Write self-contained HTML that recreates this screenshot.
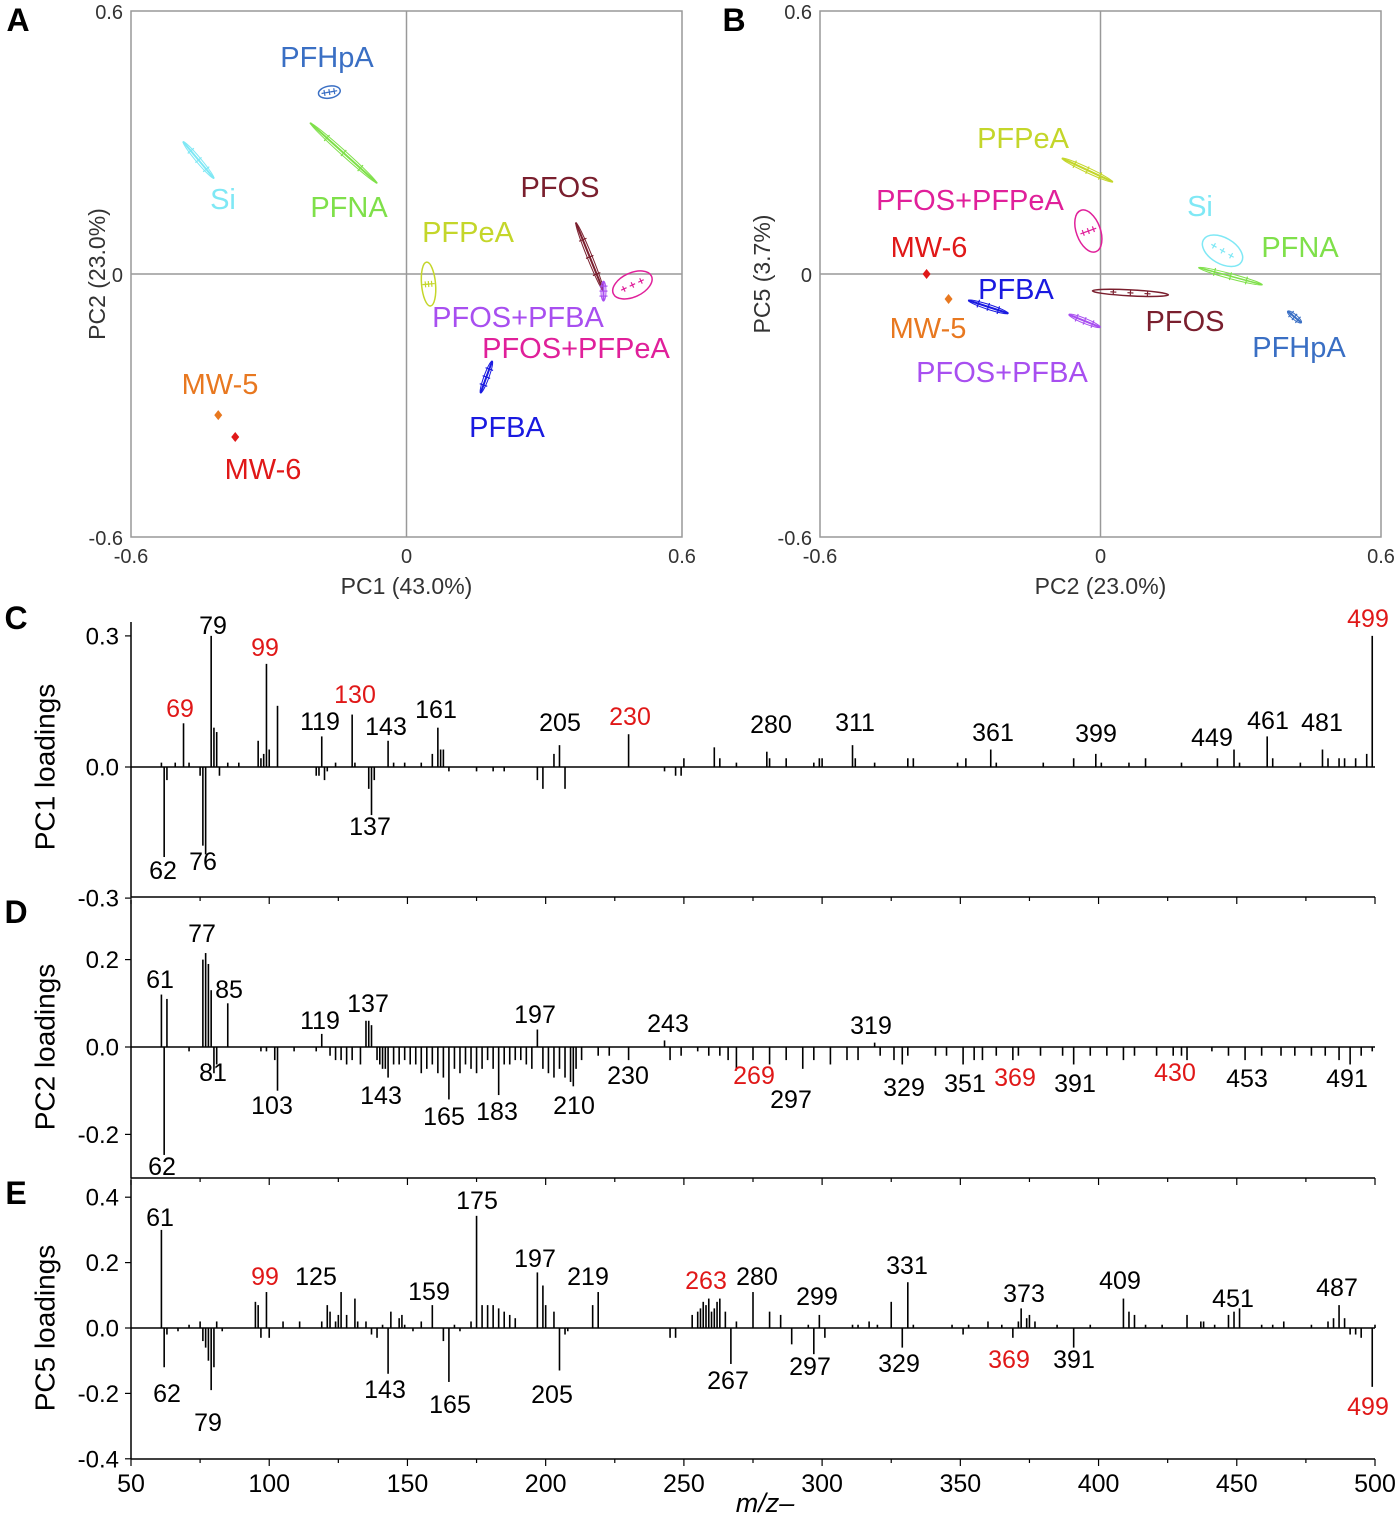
<!DOCTYPE html>
<html><head><meta charset="utf-8"><style>
html,body{margin:0;padding:0;background:#fff;}
svg{display:block;font-family:"Liberation Sans",Arial,sans-serif;}
</style></head><body>
<svg id="fig" width="1400" height="1520" viewBox="0 0 1400 1520" xmlns="http://www.w3.org/2000/svg"></svg>
<script>
// ---------- Score plot data (panel A: PC1 vs PC2) ----------
const aNames = ["PFHpA","Si","PFNA","PFOS","PFPeA","PFOS+PFBA","PFOS+PFPeA","PFBA","MW-5","MW-6"];
const aX = [-0.168,-0.453,-0.137,0.399,0.048,0.429,0.492,0.174,-0.41,-0.373];
const aY = [0.415,0.26,0.276,0.039,-0.023,-0.039,-0.025,-0.235,-0.322,-0.372];
// ---------- Score plot data (panel B: PC2 vs PC5) ----------
const bNames = ["PFPeA","PFOS+PFPeA","Si","PFNA","MW-6","MW-5","PFBA","PFOS+PFBA","PFOS","PFHpA"];
const bX = [-0.028,-0.026,0.261,0.278,-0.372,-0.325,-0.24,-0.034,0.064,0.415];
const bY = [0.237,0.098,0.053,-0.005,0,-0.057,-0.075,-0.107,-0.043,-0.098];
// ---------- Loadings ----------
const cMz = [61,62,63,66,69,71,75,76,77,79,80,81,82,85,89,96,97,98,99,100,103,117,118,119,120,121,124,130,131,136,137,138,143,145,149,155,159,161,162,163,165,175,181,185,197,199,203,205,207,230,243,247,249,250,261,263,269,280,281,287,297,299,300,311,312,319,331,333,349,352,361,363,380,391,399,401,411,417,430,443,449,451,461,463,473,481,483,487,489,493,497,499];
const cVal = [0.01,-0.206,-0.03,0.01,0.10,0.01,-0.02,-0.18,-0.20,0.30,0.09,0.08,-0.02,0.01,0.01,0.06,0.02,0.03,0.236,0.04,0.14,-0.02,-0.02,0.07,-0.03,-0.01,0.01,0.12,0.01,-0.05,-0.11,-0.03,0.06,0.01,0.01,0.01,0.03,0.09,0.04,0.04,-0.01,-0.01,-0.01,-0.01,-0.03,-0.05,0.03,0.05,-0.05,0.075,-0.01,-0.02,-0.02,0.02,0.045,0.02,0.01,0.035,0.02,0.02,0.01,0.02,0.02,0.05,0.02,0.01,0.02,0.02,0.01,0.02,0.04,0.01,0.01,0.02,0.03,0.01,0.01,0.02,0.01,0.02,0.04,0.01,0.07,0.02,0.01,0.04,0.02,0.02,0.02,0.02,0.03,0.30];
const dMz = [61,62,63,71,76,77,78,79,80,81,85,97,99,102,103,109,117,119,122,124,126,128,130,133,135,136,137,139,140,141,142,143,145,147,149,151,153,155,157,159,161,163,165,167,169,171,173,175,177,179,181,183,185,187,189,191,193,195,197,199,201,203,205,207,209,210,211,213,219,223,230,243,245,249,255,259,263,266,269,275,281,287,293,297,303,309,313,319,321,326,329,331,341,345,351,355,358,363,369,371,379,387,391,397,403,409,413,421,427,430,432,441,447,453,459,466,471,477,482,487,491,495,499];
const dVal = [0.12,-0.247,0.11,-0.01,0.20,0.215,0.19,0.13,-0.06,-0.04,0.10,-0.01,-0.01,-0.03,-0.10,-0.01,-0.01,0.03,-0.02,-0.03,-0.03,-0.04,-0.03,-0.04,0.06,0.06,0.05,-0.03,-0.04,-0.05,-0.05,-0.07,-0.04,-0.04,-0.03,-0.04,-0.04,-0.06,-0.05,-0.04,-0.06,-0.07,-0.12,-0.05,-0.06,-0.04,-0.05,-0.06,-0.05,-0.03,-0.05,-0.11,-0.04,-0.04,-0.03,-0.03,-0.04,-0.05,0.04,-0.05,-0.06,-0.07,-0.05,-0.07,-0.08,-0.09,-0.05,-0.03,-0.02,-0.02,-0.03,0.015,-0.03,-0.02,-0.01,-0.02,-0.02,-0.03,-0.05,-0.03,-0.04,-0.03,-0.05,-0.03,-0.04,-0.03,-0.03,0.01,-0.02,-0.03,-0.04,-0.02,-0.02,-0.02,-0.04,-0.03,-0.03,-0.02,-0.03,-0.02,-0.02,-0.02,-0.04,-0.02,-0.02,-0.03,-0.02,-0.02,-0.02,-0.02,-0.03,-0.01,-0.02,-0.03,-0.02,-0.02,-0.02,-0.02,-0.02,-0.03,-0.04,-0.02,-0.01];
const eMz = [61,62,63,67,71,75,76,77,78,79,80,81,83,95,96,97,99,100,105,111,119,121,122,124,125,126,128,131,132,135,137,139,141,143,144,147,148,149,152,155,159,163,165,167,169,173,175,177,179,181,183,185,187,189,197,199,200,203,205,207,208,217,219,245,247,253,255,256,257,258,259,260,261,262,263,265,267,269,275,281,285,289,295,297,299,301,311,313,317,320,325,329,331,333,347,351,353,360,365,369,371,372,374,375,377,385,391,397,409,411,413,417,423,432,437,438,442,447,449,451,459,463,467,477,483,485,487,489,491,493,495,499,500];
const eVal = [0.30,-0.12,-0.02,-0.01,0.01,0.02,-0.04,-0.06,-0.10,-0.19,-0.12,0.02,-0.01,0.08,0.07,-0.03,0.11,-0.03,0.02,0.02,0.02,0.07,0.05,0.02,0.04,0.11,0.04,0.09,0.02,0.02,-0.02,-0.03,0.01,-0.14,0.05,0.03,0.04,0.01,-0.01,0.02,0.07,-0.04,-0.165,0.01,-0.01,0.02,0.343,0.07,0.07,0.07,0.06,0.05,0.04,0.03,0.17,0.13,0.07,0.05,-0.13,-0.02,-0.01,0.07,0.11,-0.03,-0.03,0.04,0.05,0.06,0.08,0.07,0.09,0.05,0.06,0.08,0.09,0.05,-0.11,0.02,0.11,0.05,0.04,-0.05,0.01,-0.08,0.04,-0.03,0.01,0.01,0.02,0.01,0.08,-0.06,0.14,0.01,0.01,-0.02,0.01,0.02,0.01,-0.03,0.02,0.06,0.03,0.04,0.02,0.01,-0.06,0.01,0.09,0.05,0.04,0.01,0.01,0.04,0.02,0.02,0.01,0.04,0.05,0.06,0.01,0.01,0.02,0.01,0.02,0.03,0.07,0.03,-0.02,-0.02,-0.03,-0.18,0.01];
const xTicks = [50,100,150,200,250,300,350,400,450,500];

const NS="http://www.w3.org/2000/svg";
const svg=document.getElementById('fig');
function mk(tag,attrs,parent){const e=document.createElementNS(NS,tag);for(const k in attrs)e.setAttribute(k,attrs[k]);(parent||svg).appendChild(e);return e;}
function txt(s,x,y,size,fill,anchor,parent){const t=mk('text',{x:x,y:y,'font-size':size,fill:fill||'#000','text-anchor':anchor||'middle','dominant-baseline':'central'},parent);t.textContent=s;return t;}

const RED='#e01818';
const colors={"PFHpA":"#3a6fc4","Si":"#7fe8f5","PFNA":"#7fe04a","PFOS":"#7a1f2e","PFPeA":"#c4d62a","PFOS+PFBA":"#a84ff0","PFOS+PFPeA":"#e0209a","PFBA":"#1a1ae0","MW-5":"#e87820","MW-6":"#e01818"};

// ---------- Panel letters ----------
[["A",18,20],["B",734,20],["C",16,618],["D",16,912],["E",16,1193]].forEach(p=>{
  const t=txt(p[0],p[1],p[2],32,'#000','middle');
  t.setAttribute('font-weight','bold');
  
  
});

// ---------- Score plots ----------
function scorePlot(id,L,R,T,B,xs,ys,names,marks,labels,xTitle,yTitle,yTitleX){
  const g=mk('g',{});
  
  
  const sx=v=>L+(v+0.6)/1.2*(R-L);
  const sy=v=>B-(v+0.6)/1.2*(B-T);
  const box=mk('rect',{x:L,y:T,width:R-L,height:B-T,fill:'none',stroke:'#999','stroke-width':1.5},g);
  
  
  const zx=mk('line',{x1:sx(0),x2:sx(0),y1:T,y2:B,stroke:'#999','stroke-width':1.5},g);
  
  
  const zy=mk('line',{x1:L,x2:R,y1:sy(0),y2:sy(0),stroke:'#999','stroke-width':1.5},g);
  
  
  [[-0.6,"-0.6"],[0,"0"],[0.6,"0.6"]].forEach(t=>{
    const a=txt(t[1],sx(t[0]),B+20,20,'#333','middle',g);
    
    
    const b=txt(t[1],L-8,sy(t[0])+2,20,'#333','end',g);
    
    
  });
  const xt=txt(xTitle,sx(0),B+49,23,'#333','middle',g);
  
  
  const yt=txt(yTitle,0,0,23,'#333','middle',g);
  yt.setAttribute('transform','translate('+yTitleX+','+sy(0)+') rotate(-90)');
  
  
  names.forEach((n,i)=>{
    const m=marks[n];const cx=sx(xs[i]),cy=sy(ys[i]);const c=colors[n];
    const mg=mk('g',{transform:'translate('+cx+','+cy+') rotate('+m.a+')'},g);
    
    
    if(m.t==='e'){mk('ellipse',{cx:0,cy:0,rx:m.rx,ry:m.ry,fill:'none',stroke:c,'stroke-width':1.5},mg);
      for(let k=-1;k<=1;k++){mk('path',{d:'M'+(k*m.rx*0.45-3)+',0h6M'+(k*m.rx*0.45)+',-3v6',stroke:c,'stroke-width':1.2},mg);}
    } else if(m.t==='l'){mk('line',{x1:-m.rx,x2:m.rx,y1:0,y2:0,stroke:c,'stroke-width':m.w||2},mg);
      mk('ellipse',{cx:0,cy:0,rx:m.rx,ry:2.5,fill:'none',stroke:c,'stroke-width':1},mg);
      for(let k=-1;k<=1;k++){mk('path',{d:'M'+(k*m.rx*0.5)+',-4v8',stroke:c,'stroke-width':1.2},mg);}
    } else {mk('path',{d:'M0,-5L4,0L0,5L-4,0Z',fill:c},mg);}
    const lb=labels[n];
    const lt=txt(n,lb[0],lb[1],29,c,'middle',g);
    
    
  });
}
scorePlot('a',131,682,11,537,aX,aY,aNames,{
  "PFHpA":{t:'e',rx:11,ry:6,a:-10},"Si":{t:'l',rx:24,a:50,w:2},"PFNA":{t:'l',rx:45,a:42,w:2},
  "PFOS":{t:'l',rx:37,a:68,w:2},"PFPeA":{t:'e',rx:7,ry:22,a:-5},"PFOS+PFBA":{t:'l',rx:10,a:90,w:2},
  "PFOS+PFPeA":{t:'e',rx:21,ry:12,a:-25},"PFBA":{t:'l',rx:17,a:-70,w:2},"MW-5":{t:'p',a:0},"MW-6":{t:'p',a:0}},
 {"PFHpA":[327,58],"Si":[223,200],"PFNA":[349,208],"PFOS":[560,188],"PFPeA":[468,233],"PFOS+PFBA":[518,318],"PFOS+PFPeA":[576,349],"PFBA":[507,428],"MW-5":[220,385],"MW-6":[263,470]},
 'PC1 (43.0%)','PC2 (23.0%)',97);
scorePlot('b',820,1381,11,537,bX,bY,bNames,{
  "PFPeA":{t:'l',rx:28,a:25,w:2},"PFOS+PFPeA":{t:'e',rx:12,ry:22,a:-20},"Si":{t:'e',rx:22,ry:13,a:30},
  "PFNA":{t:'l',rx:33,a:15,w:1.5},"MW-6":{t:'p',a:0},"MW-5":{t:'p',a:0},"PFBA":{t:'l',rx:21,a:18,w:2},
  "PFOS+PFBA":{t:'l',rx:17,a:22,w:2},"PFOS":{t:'e',rx:38,ry:3,a:3},"PFHpA":{t:'l',rx:9,a:40,w:2}},
 {"PFPeA":[1023,139],"PFOS+PFPeA":[970,201],"Si":[1200,207],"PFNA":[1300,248],"MW-6":[929,248],"PFBA":[1016,290],"PFOS":[1185,322],"MW-5":[928,329],"PFHpA":[1299,348],"PFOS+PFBA":[1002,373]},
 'PC2 (23.0%)','PC5 (3.7%)',762);

// ---------- Loadings plots ----------
const XL=131,XR=1375;
const mzX=v=>XL+(v-50)/450*(XR-XL);
function loadPlot(id,T,Bt,zeroY,pxPerUnit,mz,vals,ticks,tickLbl,labels,yTitle,showX){
  const g=mk('g',{});
  
  
  const sy=v=>zeroY-v*pxPerUnit;
  const ax=mk('line',{x1:XL,x2:XL,y1:T,y2:Bt,stroke:'#000','stroke-width':1.5},g);
  
  
  const bx=mk('line',{x1:XL,x2:XR,y1:Bt,y2:Bt,stroke:'#000','stroke-width':1.5},g);
  
  
  for(let m=50;m<=500;m+=25){mk('line',{x1:mzX(m),x2:mzX(m),y1:Bt,y2:Bt+(m%50===0?7:4),stroke:'#000','stroke-width':1.2},g);}
  const zl=mk('line',{x1:XL,x2:XR,y1:zeroY,y2:zeroY,stroke:'#000','stroke-width':1.5},g);
  
  
  ticks.forEach((t,i)=>{
    mk('line',{x1:XL-6,x2:XL,y1:sy(t),y2:sy(t),stroke:'#000','stroke-width':1.2},g);
    const a=txt(tickLbl[i],XL-12,sy(t)+1,24,'#000','end',g);
    
    
  });
  mz.forEach((m,i)=>{
    const b=mk('line',{x1:mzX(m),x2:mzX(m),y1:zeroY,y2:sy(vals[i]),stroke:'#000','stroke-width':1.6},g);
    
    
  });
  labels.forEach(l=>{
    const t=txt(String(l[0]),l[1],l[2],25,l[3]?RED:'#000','middle',g);
    
    
  });
  const yt=txt(yTitle,0,0,28,'#000','middle',g);
  yt.setAttribute('transform','translate(45,'+zeroY+') rotate(-90)');
  
  
  if(showX){
    xTicks.forEach(v=>{const a=txt(String(v),mzX(v),Bt+25,25,'#000','middle',g);
      
      });
    const xt=txt('m/z\u2013',765,Bt+44,27,'#000','middle',g);
    xt.setAttribute('font-style','italic');
    
    
  }
}
loadPlot('pc1',622,897,767,437,cMz,cVal,[0.3,0,-0.3],["0.3","0.0","-0.3"],
 [[79,213,626],[99,265,648,1],[69,180,709,1],[130,355,695,1],[119,320,722],[143,386,727],[161,436,710],[205,560,723],[230,630,717,1],[280,771,725],[311,855,723],[361,993,733],[399,1096,734],[449,1212,738],[461,1268,721],[481,1322,723],[499,1368,619,1],[137,370,827],[62,163,871],[76,203,862]],
 'PC1 loadings',false);
loadPlot('pc2',900,1178,1047,437,dMz,dVal,[0.2,0,-0.2],["0.2","0.0","-0.2"],
 [[61,160,980],[77,202,934],[85,229,990],[119,320,1021],[137,368,1004],[197,535,1015],[243,668,1024],[319,871,1026],[81,213,1073],[103,272,1106],[143,381,1096],[165,444,1117],[183,497,1112],[210,574,1106],[230,628,1076],[269,754,1076,1],[297,791,1100],[329,904,1088],[351,965,1084],[369,1015,1078,1],[391,1075,1084],[430,1175,1073,1],[453,1247,1079],[491,1347,1079],[62,162,1167]],
 'PC2 loadings',false);
loadPlot('pc5',1180,1459,1328,327,eMz,eVal,[0.4,0.2,0,-0.2,-0.4],["0.4","0.2","0.0","-0.2","-0.4"],
 [[61,160,1218],[99,265,1277,1],[125,316,1277],[159,429,1292],[175,477,1201],[197,535,1259],[219,588,1277],[263,706,1281,1],[280,757,1277],[299,817,1297],[331,907,1266],[373,1024,1294],[409,1120,1281],[451,1233,1299],[487,1337,1288],[62,167,1394],[79,208,1423],[143,385,1390],[165,450,1405],[205,552,1395],[267,728,1381],[297,810,1367],[329,899,1364],[369,1009,1360,1],[391,1074,1360],[499,1368,1407,1]],
 'PC5 loadings',true);
</script>
</body></html>
